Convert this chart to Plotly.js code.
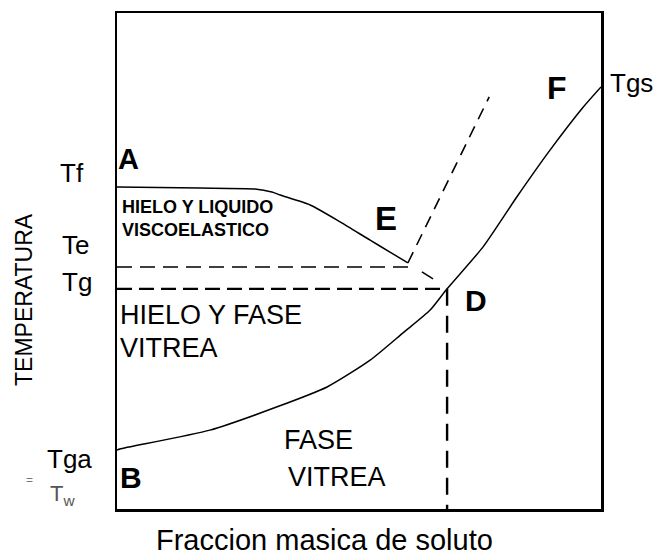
<!DOCTYPE html>
<html><head><meta charset="utf-8">
<script src="https://cdn.plot.ly/plotly-3.0.1.min.js"></script>
<style>html,body{margin:0;padding:0;background:#fff}#chart{width:657px;height:555px}</style>
</head><body><div id="chart"></div>
<script>
// ---- data (fraction of solute 0..1, temperature in arbitrary units 0..100) ----
const liquidusX = [0, 0.171, 0.285, 0.320, 0.337, 0.399, 0.461, 0.523, 0.564, 0.601];
const liquidusY = [64.9, 64.7, 64.5, 63.9, 63.3, 61.3, 57.9, 54.2, 51.8, 49.6];
const metastableX = [0.601, 0.769];
const metastableY = [49.6, 83.1];
const extensionX = [0.630, 0.653];
const extensionY = [47.8, 46.4];
const teLineX = [0, 0.605];
const teLineY = [48.8, 48.8];
const tgLineX = [0, 0.682];
const tgLineY = [44.4, 44.4];
const dropX = [0.682, 0.682];
const dropY = [44.4, 0];
const glassX = [0, 0.006, 0.192, 0.331, 0.434, 0.523, 0.591, 0.647, 0.682, 0.756, 0.826, 0.895, 0.963, 1.0];
const glassY = [11.9, 12.1, 15.9, 20.6, 24.6, 30.0, 35.5, 40.1, 44.4, 52.8, 62.9, 72.4, 81.0, 85.1];

const tempLabels = ['Tf', 'Te', 'Tg', 'Tga', 'T<sub>w</sub>', '=', 'Tgs'];
const pointLabels = ['A', 'B', 'D', 'E', 'F'];
const regionLabels = ['HIELO Y LIQUIDO', 'VISCOELASTICO', 'HIELO Y FASE', 'VITREA', 'FASE', 'VITREA'];
const xTitle = 'Fraccion masica de soluto';
const yTitle = 'TEMPERATURA';

// ---- layout helpers ----
const L = 117, R = 601, T = 13, B = 509;
const px = v => (v - L) / (R - L);
const py = v => (B - v) / (B - T);
const FONT = 'Liberation Sans, Arial, sans-serif';

const line = (x, y, w, dash, spline) => ({
  x: x, y: y, type: 'scatter', mode: 'lines', hoverinfo: 'skip', showlegend: false,
  line: {color: '#000', width: w, dash: dash || 'solid', shape: spline ? 'spline' : 'linear', smoothing: 0.6}
});

const traces = [
  line(liquidusX, liquidusY, 1.5, null, true),
  line(metastableX, metastableY, 1.6, '12px,8px'),
  line(extensionX, extensionY, 1.5),
  line(teLineX, teLineY, 1.6, '15px,8px'),
  line(tgLineX, tgLineY, 2.2, '15px,7px'),
  line(dropX, dropY, 2.4, '17px,10px'),
  line(glassX, glassY, 1.5, null, true)
];

function ann(text, x, y, size, opts) {
  return Object.assign({
    text: text, xref: 'paper', yref: 'paper', x: px(x), y: py(y),
    xanchor: 'left', yanchor: 'middle', showarrow: false,
    font: {family: FONT, size: size, color: '#000'}
  }, opts || {});
}

const annotations = [
  ann(tempLabels[0], 58, 173, 26),
  ann(tempLabels[1], 60, 245, 26),
  ann(tempLabels[2], 60, 282, 26),
  ann(tempLabels[3], 45, 459, 26),
  ann(tempLabels[4], 48, 495, 22, {font: {family: FONT, size: 22, color: '#555'}}),
  ann(tempLabels[5], 24, 480, 12, {font: {family: FONT, size: 12, color: '#777'}}),
  ann(tempLabels[6], 608, 83, 26),
  ann('<b>' + pointLabels[0] + '</b>', 116, 159, 29),
  ann('<b>' + pointLabels[1] + '</b>', 118, 477, 30),
  ann('<b>' + pointLabels[2] + '</b>', 463, 301, 30),
  ann('<b>' + pointLabels[3] + '</b>', 373, 219, 33),
  ann('<b>' + pointLabels[4] + '</b>', 545, 88, 32),
  ann('<b>' + regionLabels[0] + '</b>', 120, 207, 18),
  ann('<b>' + regionLabels[1] + '</b>', 120, 230, 18),
  ann(regionLabels[2], 118, 315, 27),
  ann(regionLabels[3], 118, 348, 27),
  ann(regionLabels[4], 282, 440, 27),
  ann(regionLabels[5], 286, 477, 27),
  ann(xTitle, 324, 540, 29, {xanchor: 'center'}),
  ann(yTitle, 24, 300, 23, {xanchor: 'center', textangle: -90})
];

const layout = {
  width: 657, height: 555,
  margin: {l: L, r: 657 - R, t: T, b: 555 - B, pad: 0},
  paper_bgcolor: '#fff', plot_bgcolor: '#fff',
  showlegend: false,
  xaxis: {range: [0, 1], showgrid: false, zeroline: false, showticklabels: false, ticks: '',
          showline: true, mirror: true, linecolor: '#000', linewidth: 2.5, fixedrange: true},
  yaxis: {range: [0, 100], showgrid: false, zeroline: false, showticklabels: false, ticks: '',
          showline: true, mirror: true, linecolor: '#000', linewidth: 2.5, fixedrange: true},
  annotations: annotations,
  font: {family: FONT}
};

Plotly.newPlot('chart', traces, layout, {displayModeBar: false, staticPlot: true});
</script>
</body></html>
